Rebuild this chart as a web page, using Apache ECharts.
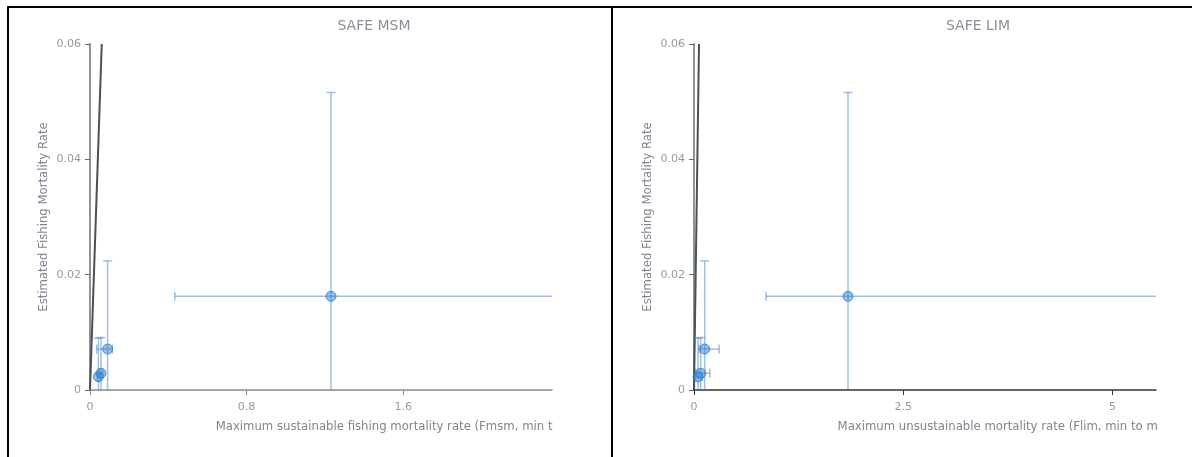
<!DOCTYPE html>
<html>
<head>
<meta charset="utf-8">
<script src="https://cdn.jsdelivr.net/npm/echarts@6/dist/echarts.min.js"></script>
<style>
  html, body { margin: 0; padding: 0; background: #fff; width: 1192px; height: 457px; overflow: hidden; }
  #frame { position: absolute; left: 7px; top: 6px; width: 602px; height: 460px; border-left: 2px solid #000; border-top: 2px solid #000; border-right: 2px solid #000; }
  #topline { position: absolute; left: 611px; top: 6px; width: 600px; height: 2px; background: #000; }
  #left { position: absolute; left: 0; top: 0; width: 553px; height: 457px; }
  #right { position: absolute; left: 612px; top: 0; width: 545px; height: 457px; }
</style>
</head>
<body>
<div id="frame"></div>
<div id="topline"></div>
<div id="left"></div>
<div id="right"></div>
<script>
// ---- data ----
const fmsmX   = [0.043, 0.056, 0.090, 1.231];
const fmsmLo  = [0.036, 0.046, 0.034, 0.433];
const fmsmHi  = [0.050, 0.066, 0.114, 2.600];
const flimX   = [0.048, 0.080, 0.128, 1.840];
const flimLo  = [0.020, 0.020, 0.060, 0.860];
const flimHi  = [0.100, 0.190, 0.300, 6.000];
const fEst    = [0.0023, 0.0029, 0.0071, 0.01625];
const fEstLo  = [-0.0045, -0.0033, -0.0082, -0.0191];
const fEstHi  = [0.0090, 0.0091, 0.0224, 0.0516];
const refLineX = [0, 0.06];
const refLineY = [0, 0.06];
const yTicks = [0, 0.02, 0.04, 0.06];
const xTicksMsm = [0, 0.8, 1.6];
const xTicksLim = [0, 2.5, 5];

const FONT = 'DejaVu Sans';
const BAR = 'rgba(70,130,195,0.5)';

function errorSeries(xs, xlo, xhi, ys, ylo, yhi) {
  const data = xs.map((x, i) => [x, ys[i], xlo[i], xhi[i], ylo[i], yhi[i]]);
  return {
    type: 'custom', clip: true, silent: true, z: 2,
    data: data,
    renderItem: function (params, api) {
      const c = api.coord([api.value(0), api.value(1)]);
      const l = api.coord([api.value(2), api.value(1)]);
      const r = api.coord([api.value(3), api.value(1)]);
      const b = api.coord([api.value(0), api.value(4)]);
      const t = api.coord([api.value(0), api.value(5)]);
      const cap = 4.5;
      const st = { stroke: BAR, lineWidth: 1.5, fill: null };
      return {
        type: 'group',
        children: [
          { type: 'line', shape: { x1: l[0], y1: c[1], x2: r[0], y2: c[1] }, style: st },
          { type: 'line', shape: { x1: l[0], y1: c[1] - cap, x2: l[0], y2: c[1] + cap }, style: st },
          { type: 'line', shape: { x1: r[0], y1: c[1] - cap, x2: r[0], y2: c[1] + cap }, style: st },
          { type: 'line', shape: { x1: c[0], y1: b[1], x2: c[0], y2: t[1] }, style: st },
          { type: 'line', shape: { x1: c[0] - cap, y1: t[1], x2: c[0] + cap, y2: t[1] }, style: st },
          { type: 'line', shape: { x1: c[0] - cap, y1: b[1], x2: c[0] + cap, y2: b[1] }, style: st }
        ]
      };
    }
  };
}

function makeOption(cfg) {
  return {
    animation: false,
    textStyle: { fontFamily: FONT },
    title: {
      text: cfg.title, left: cfg.titleX, top: 14, textAlign: 'center',
      textStyle: { fontFamily: FONT, fontSize: 14, fontWeight: 'normal', color: '#8a9099' }
    },
    grid: { left: cfg.gridLeft, top: 44, width: 462, height: 346, containLabel: false, outerBoundsMode: 'none' },
    xAxis: {
      type: 'value', min: 0, max: cfg.xMax,
      name: cfg.xName, nameLocation: 'middle', nameGap: 31, nameMoveOverlap: false,
      nameTextStyle: { fontFamily: FONT, fontSize: 11.7, color: '#7f8690', padding: [0, 0, 0, cfg.namePad] },
      axisLine: { show: true, lineStyle: { color: cfg.xLineColor, width: 1.5 } },
      axisTick: { show: true, length: 5, customValues: cfg.xTicks, lineStyle: { color: cfg.xLineColor } },
      axisLabel: { customValues: cfg.xTicks, margin: 12, fontSize: 11, color: '#999', fontFamily: FONT,
                   formatter: v => String(v) },
      splitLine: { show: false }
    },
    yAxis: {
      type: 'value', min: 0, max: 0.06, interval: 0.02,
      name: 'Estimated Fishing Mortality Rate', nameLocation: 'middle', nameGap: 40, nameMoveOverlap: false,
      nameTextStyle: { fontFamily: FONT, fontSize: 11.7, color: '#7f8690' },
      axisLine: { show: true, lineStyle: { color: '#888', width: 1.8 } },
      axisTick: { show: true, length: 5, customValues: yTicks, lineStyle: { color: '#666' } },
      axisLabel: { customValues: yTicks, margin: 9, fontSize: 11, color: '#999', fontFamily: FONT,
                   formatter: v => String(v) },
      splitLine: { show: false }
    },
    series: [
      {
        type: 'line', data: refLineX.map((x, i) => [x, refLineY[i]]), showSymbol: false,
        lineStyle: { color: '#46525c', width: 2 }, clip: true, silent: true, z: 1
      },
      errorSeries(cfg.xs, cfg.xlo, cfg.xhi, fEst, fEstLo, fEstHi),
      {
        type: 'scatter', data: cfg.xs.map((x, i) => [x, fEst[i]]), symbolSize: 10, z: 3,
        itemStyle: { color: 'rgba(60,140,215,0.55)', borderColor: 'rgba(45,115,195,0.75)', borderWidth: 1, opacity: 1 }
      }
    ]
  };
}

const left = echarts.init(document.getElementById('left'));
left.setOption(makeOption({
  title: 'SAFE MSM', titleX: 369, gridLeft: 90, xMax: 2.36, namePad: 167,
  xName: 'Maximum sustainable fishing mortality rate (Fmsm, min to max)',
  xLineColor: '#888', xTicks: xTicksMsm,
  xs: fmsmX, xlo: fmsmLo, xhi: fmsmHi
}));

const right = echarts.init(document.getElementById('right'));
right.setOption(makeOption({
  title: 'SAFE LIM', titleX: 361, gridLeft: 82, xMax: 5.52, namePad: 164,
  xName: 'Maximum unsustainable mortality rate (Flim, min to max)',
  xLineColor: '#333', xTicks: xTicksLim,
  xs: flimX, xlo: flimLo, xhi: flimHi
}));
</script>
</body>
</html>
